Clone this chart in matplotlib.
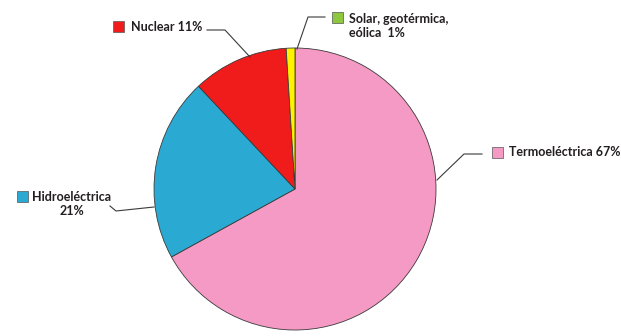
import numpy as np
import matplotlib.pyplot as plt
from matplotlib.patches import Rectangle

plt.rcParams['font.family'] = ['Lato', 'DejaVu Sans']

# datos
fuentes = ['Termoeléctrica', 'Hidroeléctrica', 'Nuclear', 'Solar, geotérmica, eólica']
porcentajes = [67, 21, 11, 1]
colores = ['#f49ac4', '#2aaad2', '#f01c1c', '#fff200']
colores_leyenda = ['#f49ac4', '#2aaad2', '#f01c1c', '#8dc63f']
etiquetas = ['Termoeléctrica 67%', 'Hidroeléctrica\n21%', 'Nuclear 11%',
             'Solar, geotérmica,\neólica  1%']

W, H = 621, 336
fig = plt.figure(figsize=(W / 100, H / 100), dpi=100)
ax = fig.add_axes([0, 0, 1, 1])

cx, cy, r = 295, H - 189, 141
wedges, _ = ax.pie(porcentajes, colors=colores, startangle=90, counterclock=False,
                   center=(cx, cy), radius=r,
                   wedgeprops=dict(edgecolor='#3a3a3a', linewidth=0.6))
ax.set_xlim(0, W)
ax.set_ylim(0, H)
ax.set_aspect('equal')
ax.axis('off')

# posiciones de cuadros, textos y lineas guia
cajas = [(492, 147), (17, 191), (113, 21), (332, 12)]
texto_xy = [(509, 152.5), (72, 204), (131, 27), (349, 26)]
lineas = [[(482, 154), (464, 154)],
          [(110, 206), (116, 211)],
          [(207, 30), (225, 30)],
          [(325, 17), (308, 17)]]
destino = [(437, 180), (154, 207), (250, 57), (297, 49)]

txt_color = '#231f20'
for i, w in enumerate(wedges):
    bx, by = cajas[i]
    ax.add_patch(Rectangle((bx, H - by - 11), 11, 11, facecolor=colores_leyenda[i],
                           edgecolor='#555555', linewidth=0.5))
    tx, ty = texto_xy[i]
    ha = 'center' if i == 1 else 'left'
    ax.text(tx, H - ty, etiquetas[i], ha=ha, va='center', fontsize=9,
            fontweight='bold', color=txt_color, linespacing=1.2)
    pts = lineas[i] + [destino[i]]
    xs = [p[0] for p in pts]
    ys = [H - p[1] for p in pts]
    ax.plot(xs, ys, color='#3a3a3a', linewidth=0.8)

fig.savefig('out.png', dpi=100)
